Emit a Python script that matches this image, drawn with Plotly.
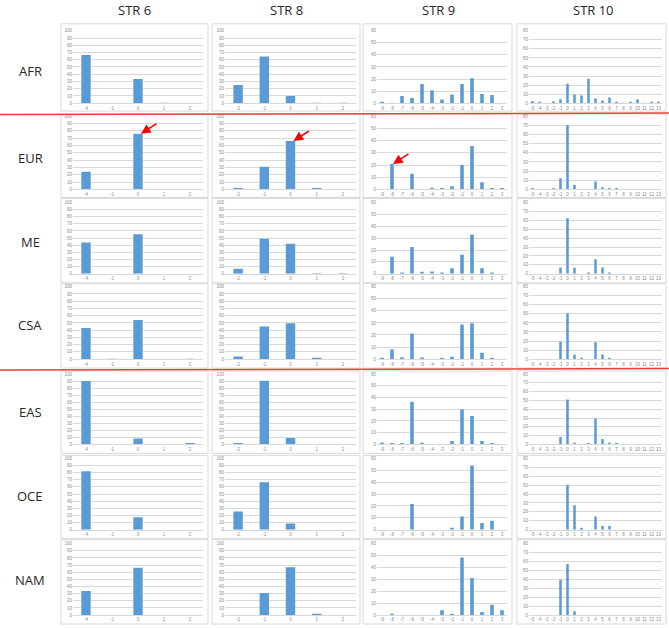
import plotly.graph_objects as go
from plotly.subplots import make_subplots

W, H = 669, 628

regions = ["AFR", "EUR", "ME", "CSA", "EAS", "OCE", "NAM"]
loci = ["STR 6", "STR 8", "STR 9", "STR 10"]

str6_cats = ["-4", "-1", "0", "1", "2"]
str8_cats = ["-2", "-1", "0", "1", "2"]
str9_cats = ["-9", "-8", "-7", "-6", "-5", "-4", "-3", "-2", "-1", "0", "1", "2", "3"]
str10_cats = ["-5", "-4", "-3", "-2", "-1", "0", "1", "2", "3", "4", "5", "6", "7",
              "8", "9", "10", "11", "12", "13"]

# STR 6 frequencies (%) per region
str6_AFR = [66.5, 0, 33.5, 0.5, 0]
str6_EUR = [24, 0, 76, 0, 0]
str6_ME = [44, 0, 55.5, 0, 0]
str6_CSA = [43, 0.5, 54, 0, 0.5]
str6_EAS = [90, 0, 8.4, 0, 1.5]
str6_OCE = [82, 0, 17.6, 0, 0]
str6_NAM = [33.6, 0, 66.4, 0, 0]

# STR 8
str8_AFR = [25, 64.5, 10, 0.3, 0.3]
str8_EUR = [1.8, 31, 66, 1.5, 0]
str8_ME = [7, 49, 42, 0.5, 0.5]
str8_CSA = [3.7, 45, 49.5, 1, 0]
str8_EAS = [2, 90.6, 9, 0, 0]
str8_OCE = [25.5, 66.7, 8.8, 0, 0]
str8_NAM = [0, 31, 67, 1.5, 0]

# STR 9
str9_AFR = [1.1, 0.3, 6, 4.4, 15.8, 10.6, 3, 7.1, 15.8, 20.7, 7.6, 6.8, 0]
str9_EUR = [0, 20.9, 0, 12.8, 0, 1.4, 0.5, 2.7, 20, 35.6, 6, 1, 1]
str9_ME = [0, 14.4, 1.1, 22.5, 1.7, 1.9, 0.5, 4.7, 16, 33, 4.7, 1.1, 0]
str9_CSA = [0.5, 8, 1.6, 21.2, 1.4, 0, 0.8, 1.9, 28.6, 29.7, 5.2, 1.1, 0]
str9_EAS = [1.7, 0.5, 0.5, 36.4, 1.4, 0, 0, 3, 29.7, 24.2, 3, 1.1, 0]
str9_OCE = [0, 0, 0, 21.7, 0, 0, 0, 1.7, 11.1, 53.9, 5.6, 7.5, 0]
str9_NAM = [0, 0.8, 0, 0, 0, 0, 4.1, 0.8, 48.3, 31.2, 2.5, 8.6, 4.1]

# STR 10
str10_AFR = [2.5, 1.1, 0, 2.2, 4.4, 21.5, 9.5, 8.4, 27, 5.1, 2.9, 6.2, 1.1, 0.3, 1.1, 4.4, 0.3, 1.1, 1.1]
str10_EUR = [0.5, 0, 0, 0.5, 12.3, 70.3, 5, 0, 0, 8.7, 2.5, 1.4, 1, 0, 0, 0, 0, 0, 0]
str10_ME = [0, 0, 0, 0, 7, 62.2, 6.7, 0, 0.7, 16.3, 7, 1.5, 0, 0, 0, 0, 0, 0, 0]
str10_CSA = [0, 0, 0, 0, 19.1, 50.6, 4.8, 1.1, 0, 18.7, 5.1, 0.7, 0, 0, 0, 0, 0, 0, 0]
str10_EAS = [0, 0, 0, 0, 8.5, 51, 1.9, 0, 1.5, 29.6, 6.3, 1.9, 1, 0, 0, 0, 0, 0, 0]
str10_OCE = [0, 0, 0, 0, 0, 50.4, 27.4, 2.2, 0, 14.8, 4.1, 4.1, 0, 0, 0, 0, 0, 0, 0]
str10_NAM = [0, 0, 0, 0, 39.5, 57.2, 4.4, 0, 0, 0, 0, 0, 0, 0, 0, 0, 0, 0, 0]

y_max = [100, 100, 60, 80]

cats = [str6_cats, str8_cats, str9_cats, str10_cats]
data = [
    [str6_AFR, str8_AFR, str9_AFR, str10_AFR],
    [str6_EUR, str8_EUR, str9_EUR, str10_EUR],
    [str6_ME, str8_ME, str9_ME, str10_ME],
    [str6_CSA, str8_CSA, str9_CSA, str10_CSA],
    [str6_EAS, str8_EAS, str9_EAS, str10_EAS],
    [str6_OCE, str8_OCE, str9_OCE, str10_OCE],
    [str6_NAM, str8_NAM, str9_NAM, str10_NAM],
]

# layout geometry (pixels)
col_plot = [(73, 203), (225, 356), (377, 507), (529, 662)]
col_box = [(61, 208), (212, 360), (363, 512), (517, 666)]
row_plot = [(29, 102), (115, 189), (202, 274), (287, 360), (375, 446), (460, 532), (546, 618)]
row_box = [(22, 110), (113, 197), (198, 283), (284, 369), (372, 455), (457, 541), (542, 627)]
row_label_y = [70, 157, 242, 326, 413, 498, 583]
header_x = [134, 286, 438, 593]


def px(x):
    return x / W


def py(y):
    return 1 - y / H


fig = make_subplots(rows=7, cols=4)

BLUE = "#5B9BD5"
GRID = "#D9D9D9"
TICKC = "#8C8C8C"

shapes = []
for r in range(7):
    for c in range(4):
        shapes.append(dict(type="rect", xref="paper", yref="paper",
                           x0=px(col_box[c][0]), x1=px(col_box[c][1]),
                           y0=py(row_box[r][1]), y1=py(row_box[r][0]),
                           line=dict(color="#D9D9D9", width=1), fillcolor="white",
                           layer="below"))

for r in range(7):
    for c in range(4):
        fig.add_trace(go.Bar(x=cats[c], y=data[r][c], marker_color=BLUE,
                             marker_line_width=0, showlegend=False, hoverinfo="x+y"),
                      row=r + 1, col=c + 1)
        n = r * 4 + c + 1
        xa = "xaxis" if n == 1 else f"xaxis{n}"
        ya = "yaxis" if n == 1 else f"yaxis{n}"
        fig.layout[xa].update(domain=[px(col_plot[c][0]), px(col_plot[c][1])],
                              type="category", tickmode="array", tickvals=cats[c],
                              ticktext=cats[c], tickangle=0, showline=True,
                              linecolor=GRID, linewidth=1, showgrid=False, ticks="",
                              range=[-0.5, len(cats[c]) - 0.5],
                              tickfont=dict(size=4.5, color=TICKC, family="Liberation Sans"),
                              fixedrange=True)
        fig.layout[ya].update(domain=[py(row_plot[r][1]), py(row_plot[r][0])],
                              range=[0, y_max[c]], dtick=10, showgrid=True,
                              gridcolor=GRID, gridwidth=0.8, zeroline=False,
                              showline=False, ticks="",
                              tickfont=dict(size=4.5, color=TICKC, family="Liberation Sans"),
                              fixedrange=True)

fig.update_layout(bargap=0.64)

annotations = []
for c, name in enumerate(loci):
    annotations.append(dict(text=name, xref="paper", yref="paper", x=px(header_x[c]),
                            y=py(8), showarrow=False, xanchor="center", yanchor="middle",
                            font=dict(size=13, color="#262626", family="Open Sans")))
for r, name in enumerate(regions):
    annotations.append(dict(text=name, xref="paper", yref="paper", x=px(30),
                            y=py(row_label_y[r]), showarrow=False, xanchor="center",
                            yanchor="middle",
                            font=dict(size=13, color="#262626", family="Open Sans")))

# red arrows in EUR row
arrow_targets = [(0, "0"), (1, "0"), (2, "-8")]
for c, cat in arrow_targets:
    n = 1 * 4 + c + 1
    idx = cats[c].index(cat)
    annotations.append(dict(x=idx, y=data[1][c][idx], xref=f"x{n}", yref=f"y{n}",
                            text="", showarrow=True, arrowhead=2, arrowsize=1.2,
                            arrowwidth=1.6, arrowcolor="#FF0000", ax=17, ay=-11,
                            xshift=3 if c < 2 else 1, yshift=0, standoff=0))

# red separator lines
shapes.append(dict(type="line", xref="paper", yref="paper", x0=0, x1=1,
                   y0=py(113.5), y1=py(112), line=dict(color="#E8403C", width=1.5)))
shapes.append(dict(type="line", xref="paper", yref="paper", x0=0, x1=1,
                   y0=py(371), y1=py(369.5), line=dict(color="#E8403C", width=1.5)))

fig.update_layout(width=W, height=H, margin=dict(l=0, r=0, t=0, b=0),
                  paper_bgcolor="white", plot_bgcolor="rgba(0,0,0,0)",
                  shapes=shapes, annotations=annotations,
                  font=dict(family="Liberation Sans"))

fig.write_html("out.html", config={"displayModeBar": False},
               post_script="document.body.style.margin='0px';")
